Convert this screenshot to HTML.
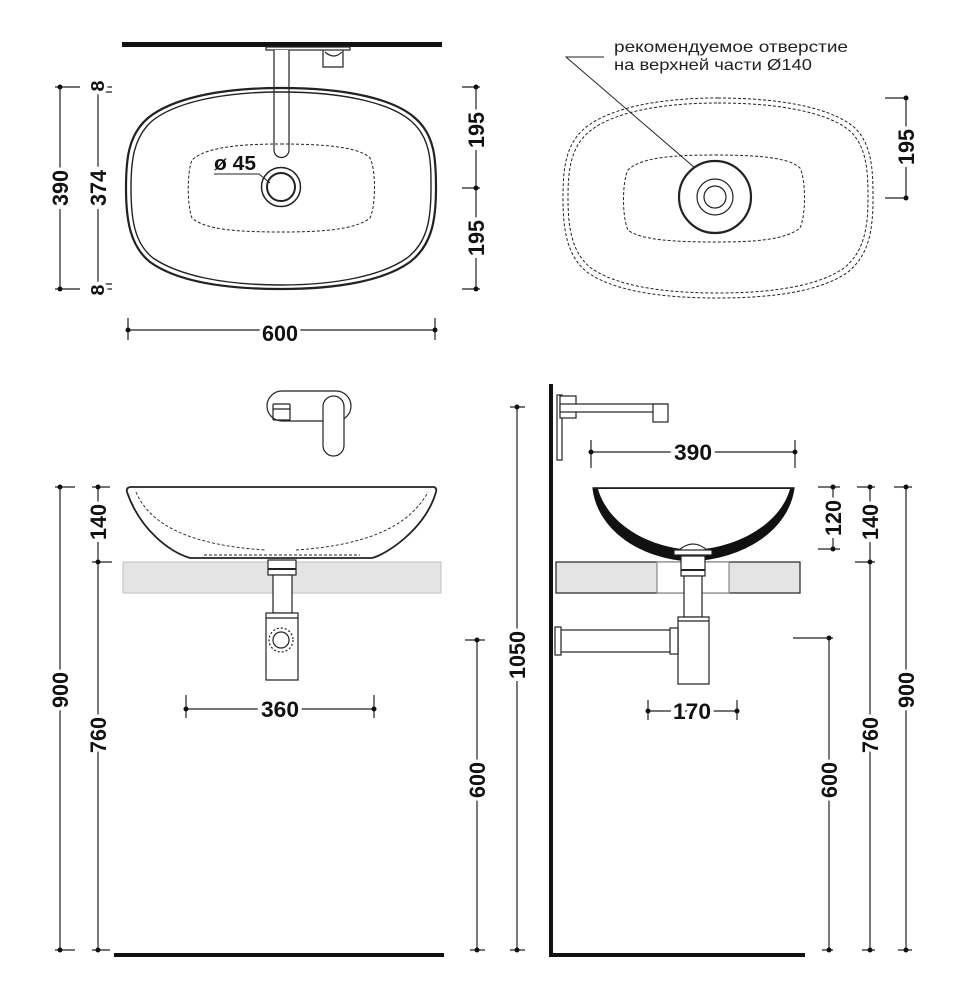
<!DOCTYPE html>
<html><head><meta charset="utf-8"><style>
html,body{margin:0;padding:0;background:#fff;}
svg{display:block;}
.d{font-family:"Liberation Sans",sans-serif;font-size:22px;font-weight:bold;fill:#111;stroke:#fff;stroke-width:7px;paint-order:stroke;}
</style></head><body>
<svg width="966" height="1000" viewBox="0 0 966 1000" xmlns="http://www.w3.org/2000/svg">
<g fill="none" stroke="#222" stroke-width="1.2">
<!-- ===== TOP LEFT ===== -->
<rect x="122" y="42" width="320" height="5" fill="#111" stroke="none"/>
<rect x="266" y="47" width="84" height="3" fill="#fff"/>
<path d="M274 50 V150 A7.5 7.5 0 0 0 289 150 V50" fill="#fff"/>
<path d="M323 50 V67 H343 V50" />
<path d="M325 52 Q334 60 342 52"/>
<path d="M281 88 C350 88 395 100 415 118 C435 135 436 160 436 188 C436 220 432 245 410 262 C385 280 340 289 281 289 C220 289 175 280 150 262 C130 246 126 220 126 188 C126 160 128 135 148 118 C170 100 215 88 281 88 Z" stroke-width="2.2"/>
<path d="M281 92 C347 92 391 104 411 121 C431 138 431 162 431 188 C431 218 428 242 407 258 C383 275 338 285 281 285 C222 285 178 275 153 258 C134 243 131 218 131 188 C131 162 133 138 152 121 C173 104 217 92 281 92 Z" stroke-width="1.4"/>
<path d="M281 144 C330 144 360 148 370 158 C376 170 376 205 370 218 C355 230 320 232 281 232 C240 232 205 230 192 218 C187 205 187 172 192 160 C205 148 235 144 281 144 Z" stroke-dasharray="3 2" stroke-width="1"/>
<circle cx="281" cy="187" r="19.5" stroke-width="1.5" fill="#fff"/>
<circle cx="281" cy="187" r="14" stroke-width="2"/>
<path d="M214 174 H259 L270 183" stroke-width="1"/>
<!-- dims top-left -->
<path d="M60 87 V289 M55 87 H80 M55 289 H80"/>
<path d="M98 87 V289 M93 87 H112 M93 92 H112 M93 284 H112 M93 289 H112"/>
<path d="M476 87 V289 M462 87 H480 M462 188 H480 M462 289 H480"/>
<path d="M128 330 H435 M128 318 V340 M435 318 V340"/>
<!-- ===== TOP RIGHT ===== -->
<g stroke-dasharray="3 2" stroke-width="1">
<path d="M718 98 C788 98 835 110 855 128 C872 145 873 170 873 198 C873 230 869 255 848 272 C823 290 778 298 718 298 C657 298 612 290 587 272 C567 256 563 230 563 198 C563 170 565 145 585 128 C607 110 652 98 718 98 Z"/>
<path d="M718 103 C785 103 830 114 850 131 C867 147 868 172 868 198 C868 228 864 252 844 268 C820 285 776 293 718 293 C659 293 615 285 591 268 C572 253 568 228 568 198 C568 172 570 147 590 131 C611 114 655 103 718 103 Z"/>
<path d="M715 155 C760 155 790 158 800 168 C806 180 806 215 800 228 C785 240 755 242 715 242 C675 242 640 240 628 230 C622 217 622 182 628 170 C640 158 670 155 715 155 Z"/>
</g>
<circle cx="715" cy="197" r="36" stroke-width="2.2" fill="#fff"/>
<circle cx="715" cy="197" r="18"/>
<circle cx="715" cy="197" r="11"/>
<path d="M604 57 H566 L695 168" stroke-width="1"/>
<path d="M906 98 V198 M885 98 H908 M885 198 H908"/>
<!-- ===== BOTTOM LEFT ===== -->
<path d="M282 391 H336 A15 15 0 0 1 336 421 H282 A15 15 0 0 1 282 391 Z" fill="#fff"/>
<rect x="273" y="404" width="17" height="16" rx="1"/>
<path d="M273 409 H290"/>
<rect x="323" y="396" width="21" height="60" rx="10.5" fill="#fff"/>
<rect x="123" y="562" width="318" height="31" fill="#e4e4e4" stroke="#c8c8c8"/>
<path d="M130 487 H434 Q437 488 436 492 C425 530 385 555 372 558 L190 558 C170 552 140 530 127 492 Q126 488 130 487 Z" fill="#fff" stroke-width="1.8"/>
<path d="M136 492 C150 525 190 545 265 550 M296 550 C370 545 410 525 428 492" stroke-dasharray="3 2" stroke-width="0.9"/>
<path d="M204 555 H360" stroke-dasharray="3 2" stroke-width="0.9"/>
<rect x="268" y="560" width="28" height="15" fill="#fff"/>
<path d="M268 569 H296" stroke-width="2"/>
<rect x="273" y="575" width="19" height="38" fill="#fff"/>
<rect x="266" y="613" width="32" height="67" fill="#fff"/>
<path d="M266 618 H298"/>
<circle cx="281" cy="640" r="12" stroke-dasharray="2 2"/>
<circle cx="281" cy="640" r="8"/>
<path d="M186 709 H374 M186 695 V718 M374 695 V718"/>
<path d="M60 487 V950 M55 487 H75 M55 950 H75"/>
<path d="M98 487 V950 M92 487 H110 M92 562 H112 M92 950 H110"/>
<rect x="114" y="953" width="330" height="4" fill="#111" stroke="none"/>
<path d="M517 407 V950 M510 407 H525 M510 950 H525"/>
<path d="M477 640 V950 M465 640 H485 M470 950 H485"/>
<!-- ===== BOTTOM RIGHT ===== -->
<rect x="549" y="384" width="4" height="573" fill="#111" stroke="none"/>
<rect x="549" y="953" width="256" height="4" fill="#111" stroke="none"/>
<rect x="557" y="395" width="5" height="65" fill="#fff"/>
<rect x="560" y="396" width="16" height="22" fill="#fff"/>
<rect x="560" y="404" width="107" height="8" fill="#fff"/>
<rect x="653" y="404" width="15" height="18" fill="#fff"/>
<rect x="556" y="562" width="244" height="31" fill="#e4e4e4"/>
<rect x="657" y="562" width="72" height="31" fill="#fff" stroke="#888"/>
<path d="M593 488 C598 530 640 558 690 561 C745 558 788 530 794 488 Z" fill="#111" stroke="#111"/>
<path d="M598 489 C608 524 648 548 693 550 C738 548 780 524 790 489 Z" fill="#fff" stroke="none"/>
<path d="M593 488 H794" stroke-width="1.5"/>
<path d="M678 551 Q693 537 708 551 Z" fill="#fff"/>
<rect x="674" y="550" width="38" height="5" fill="#fff"/>
<rect x="681" y="556" width="24" height="20" fill="#fff"/>
<path d="M681 570 H705" stroke-width="2"/>
<rect x="684" y="576" width="18" height="41" fill="#fff"/>
<rect x="678" y="617" width="31" height="67" fill="#fff"/>
<path d="M678 621 H709"/>
<rect x="560" y="630" width="118" height="22" fill="#fff"/>
<rect x="555" y="627" width="6" height="28" fill="#fff"/>
<rect x="670" y="628" width="8" height="26" fill="#fff"/>
<path d="M591 452 H795 M591 440 V468 M795 440 V468"/>
<path d="M648 711 H737 M648 700 V720 M737 700 V720"/>
<path d="M833 487 V549 M818 487 H840 M818 549 H840"/>
<path d="M870 487 V950 M857 487 H875 M855 562 H875 M862 950 H875"/>
<path d="M906 487 V950 M894 487 H912 M898 950 H912"/>
<path d="M829 638 V950 M793 638 H833 M822 950 H833"/>
</g>
<!-- dots -->
<g fill="#111">
<circle cx="60" cy="87" r="2.5"/><circle cx="60" cy="289" r="2.5"/>
<circle cx="98" cy="87" r="2.5"/><circle cx="98" cy="92" r="2.5"/><circle cx="98" cy="284" r="2.5"/><circle cx="98" cy="289" r="2.5"/>
<circle cx="476" cy="87" r="2.5"/><circle cx="476" cy="188" r="2.5"/><circle cx="476" cy="289" r="2.5"/>
<circle cx="128" cy="330" r="2.5"/><circle cx="435" cy="330" r="2.5"/>
<circle cx="906" cy="98" r="2.5"/><circle cx="906" cy="198" r="2.5"/>
<circle cx="186" cy="709" r="2.5"/><circle cx="374" cy="709" r="2.5"/>
<circle cx="60" cy="487" r="2.5"/><circle cx="60" cy="950" r="2.5"/>
<circle cx="98" cy="487" r="2.5"/><circle cx="98" cy="562" r="2.5"/><circle cx="98" cy="950" r="2.5"/>
<circle cx="517" cy="407" r="2.5"/><circle cx="517" cy="950" r="2.5"/>
<circle cx="477" cy="640" r="2.5"/><circle cx="477" cy="950" r="2.5"/>
<circle cx="591" cy="452" r="2.5"/><circle cx="795" cy="452" r="2.5"/>
<circle cx="648" cy="711" r="2.5"/><circle cx="737" cy="711" r="2.5"/>
<circle cx="833" cy="487" r="2.5"/><circle cx="833" cy="549" r="2.5"/>
<circle cx="870" cy="487" r="2.5"/><circle cx="870" cy="562" r="2.5"/><circle cx="870" cy="950" r="2.5"/>
<circle cx="906" cy="487" r="2.5"/><circle cx="906" cy="950" r="2.5"/>
<circle cx="829" cy="638" r="2.5"/><circle cx="829" cy="950" r="2.5"/>
</g>
<!-- labels -->
<g class="d" text-anchor="middle">
<text x="280" y="341" textLength="36" lengthAdjust="spacingAndGlyphs">600</text>
<text x="0" y="0" transform="translate(68,188) rotate(-90)" textLength="36" lengthAdjust="spacingAndGlyphs">390</text>
<text x="0" y="0" transform="translate(106,188) rotate(-90)" textLength="36" lengthAdjust="spacingAndGlyphs">374</text>
<text x="0" y="0" transform="translate(104,86) rotate(-90)" textLength="11" lengthAdjust="spacingAndGlyphs" style="font-size:18px">8</text>
<text x="0" y="0" transform="translate(104,290) rotate(-90)" textLength="11" lengthAdjust="spacingAndGlyphs" style="font-size:18px">8</text>
<text x="0" y="0" transform="translate(484,130) rotate(-90)" textLength="36" lengthAdjust="spacingAndGlyphs">195</text>
<text x="0" y="0" transform="translate(484,238) rotate(-90)" textLength="36" lengthAdjust="spacingAndGlyphs">195</text>
<text x="0" y="0" transform="translate(914,147) rotate(-90)" textLength="36" lengthAdjust="spacingAndGlyphs">195</text>
<text x="280" y="717" textLength="38" lengthAdjust="spacingAndGlyphs">360</text>
<text x="0" y="0" transform="translate(68,690) rotate(-90)" textLength="36" lengthAdjust="spacingAndGlyphs">900</text>
<text x="0" y="0" transform="translate(106,522) rotate(-90)" textLength="36" lengthAdjust="spacingAndGlyphs">140</text>
<text x="0" y="0" transform="translate(106,735) rotate(-90)" textLength="36" lengthAdjust="spacingAndGlyphs">760</text>
<text x="0" y="0" transform="translate(525,655) rotate(-90)" textLength="48" lengthAdjust="spacingAndGlyphs">1050</text>
<text x="0" y="0" transform="translate(485,780) rotate(-90)" textLength="36" lengthAdjust="spacingAndGlyphs">600</text>
<text x="693" y="460" textLength="38" lengthAdjust="spacingAndGlyphs">390</text>
<text x="692" y="719" textLength="38" lengthAdjust="spacingAndGlyphs">170</text>
<text x="0" y="0" transform="translate(841,518) rotate(-90)" textLength="36" lengthAdjust="spacingAndGlyphs">120</text>
<text x="0" y="0" transform="translate(878,522) rotate(-90)" textLength="36" lengthAdjust="spacingAndGlyphs">140</text>
<text x="0" y="0" transform="translate(878,735) rotate(-90)" textLength="36" lengthAdjust="spacingAndGlyphs">760</text>
<text x="0" y="0" transform="translate(914,690) rotate(-90)" textLength="36" lengthAdjust="spacingAndGlyphs">900</text>
<text x="0" y="0" transform="translate(837,780) rotate(-90)" textLength="36" lengthAdjust="spacingAndGlyphs">600</text>
</g>
<text x="214" y="170" font-family="Liberation Sans, sans-serif" font-size="20" font-weight="bold" fill="#111" textLength="42" lengthAdjust="spacingAndGlyphs">ø 45</text>
<text x="614" y="52" font-family="Liberation Sans, sans-serif" font-size="16" fill="#222" textLength="234" lengthAdjust="spacingAndGlyphs">рекомендуемое отверстие</text>
<text x="614" y="70" font-family="Liberation Sans, sans-serif" font-size="16" fill="#222" textLength="198" lengthAdjust="spacingAndGlyphs">на верхней части Ø140</text>
</svg>
</body></html>
